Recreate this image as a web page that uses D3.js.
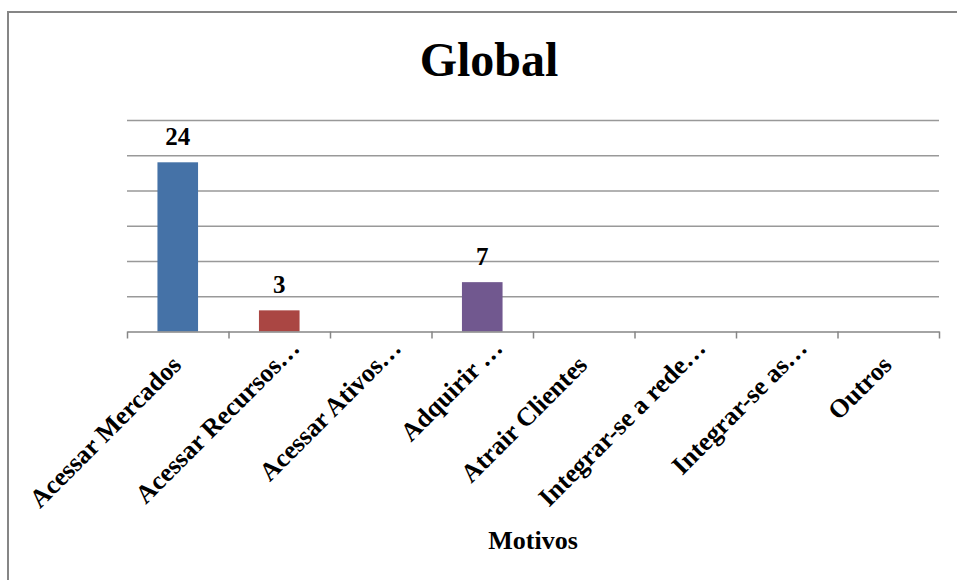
<!DOCTYPE html>
<html>
<head>
<meta charset="utf-8">
<script src="https://cdn.jsdelivr.net/npm/d3@7"></script>
<style>
  body { margin: 0; background: #fff; }
  svg text { font-family: "Liberation Serif", "Times New Roman", serif; font-weight: bold; fill: #000; }
</style>
</head>
<body>
<svg id="chart" width="957" height="580"></svg>
<script>
var categories = ["Acessar Mercados", "Acessar Recursos…", "Acessar Ativos…", "Adquirir …",
                  "Atrair Clientes", "Integrar-se a rede…", "Integrar-se as…", "Outros"];
var values = [24, 3, 0, 7, 0, 0, 0, 0];
var colors = ["#4572A7", "#AA4643", "#89A54E", "#71588F", "#4198AF", "#DB843D", "#93A9CF", "#D19392"];
var gridTicks = [5, 10, 15, 20, 25, 30];
var title = "Global";
var xTitle = "Motivos";

var svg = d3.select("#chart");

// chart frame (runs off the right and bottom of the picture)
svg.append("rect")
    .attr("x", 8).attr("y", 12)
    .attr("width", 962).attr("height", 600)
    .attr("fill", "#fff")
    .attr("stroke", "#868686")
    .attr("stroke-width", 2);

var plotLeft = 127, plotRight = 939, plotTop = 120, plotBottom = 331.5;

var y = d3.scaleLinear().domain([0, 30]).range([plotBottom, plotTop]);
var x = d3.scaleBand().domain(categories).range([plotLeft, plotRight])
    .paddingInner(0.6).paddingOuter(0.3);
var edges = d3.scaleLinear().domain([0, categories.length]).range([plotLeft, plotRight]);

// gridlines
var grid = svg.append("g")
    .attr("transform", "translate(" + plotLeft + ",0)")
    .call(d3.axisLeft(y).tickValues(gridTicks).tickSize(-(plotRight - plotLeft)).tickFormat(""));
grid.select(".domain").remove();
grid.selectAll("line").attr("stroke", "#999").attr("stroke-width", 1.5);

// bars
svg.selectAll("rect.bar")
    .data(values)
    .enter()
    .append("rect")
    .attr("class", "bar")
    .attr("x", function(d, i) { return x(categories[i]); })
    .attr("width", x.bandwidth())
    .attr("y", function(d) { return y(d); })
    .attr("height", function(d) { return plotBottom - y(d); })
    .attr("fill", function(d, i) { return colors[i]; });

// value labels (only non-zero bars carry one)
var labelled = values.map(function(v, i) { return {cat: categories[i], v: v}; })
    .filter(function(d) { return d.v > 0; });
svg.selectAll("text.val")
    .data(labelled)
    .enter()
    .append("text")
    .attr("class", "val")
    .attr("x", function(d) { return x(d.cat) + x.bandwidth() / 2; })
    .attr("y", function(d) { return y(d.v) - 17; })
    .attr("text-anchor", "middle")
    .style("font-size", "25px")
    .text(function(d) { return d.v; });

// x axis with ticks at category edges
var xAxis = svg.append("g")
    .attr("transform", "translate(0," + plotBottom + ")")
    .call(d3.axisBottom(edges).tickValues(d3.range(categories.length + 1)).tickSize(7).tickSizeOuter(0).tickFormat(""));
xAxis.select(".domain").attr("stroke", "#868686").attr("stroke-width", 1.5);
xAxis.selectAll("line").attr("stroke", "#868686").attr("stroke-width", 1.5);

// rotated category labels; truncated ones overhang a bit, as Excel does
svg.selectAll("text.cat")
    .data(categories)
    .enter()
    .append("text")
    .attr("class", "cat")
    .attr("transform", function(d) {
        return "translate(" + (x(d) + x.bandwidth() / 2 + 5) + "," + (plotBottom + 35) + ") rotate(-45)";
    })
    .attr("dx", function(d) { return d.slice(-1) === "…" ? 24 : 0; })
    .attr("text-anchor", "end")
    .style("font-size", "26px")
    .text(function(d) { return d; });

// titles
svg.append("text")
    .attr("x", 489).attr("y", 76)
    .attr("text-anchor", "middle")
    .style("font-size", "48px")
    .text(title);

svg.append("text")
    .attr("x", (plotLeft + plotRight) / 2).attr("y", 549)
    .attr("text-anchor", "middle")
    .style("font-size", "26px")
    .text(xTitle);
</script>
</body>
</html>
